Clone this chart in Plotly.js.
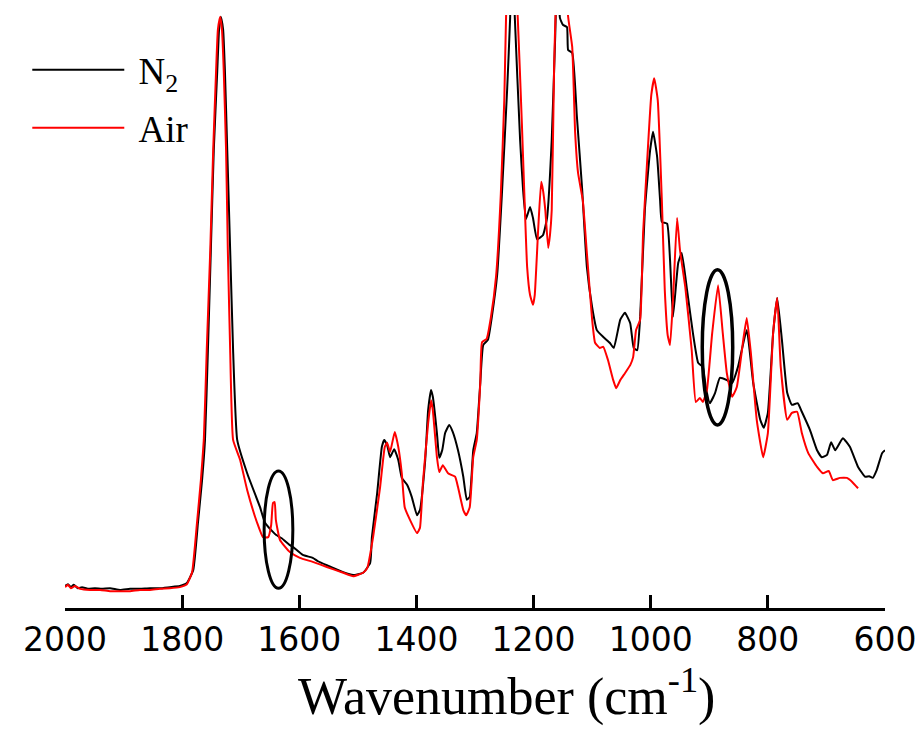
<!DOCTYPE html>
<html>
<head>
<meta charset="utf-8">
<script src="https://cdn.plot.ly/plotly-3.0.1.min.js"></script>
<style>html,body{margin:0;padding:0;background:#fff;}#chart{width:921px;height:736px;}</style>
</head>
<body>
<div id="chart"></div>
<script>
// Wavenumber (cm-1) and absorbance (a.u.)
const wnN2 = [2000,1995,1990,1985,1978,1971,1961,1949,1937,1923,1906,1889,1872,1855,1838,1821,1804,1792,1781,1773,1766,1761,1756,1751,1746,1740,1737,1734,1730,1727,1723,1718,1713,1706,1689,1667,1659,1645,1640,1630,1616,1611,1594,1577,1568,1553,1525,1508,1491,1479,1476,1467,1459,1455,1450,1445,1438,1431,1425,1416,1408,1399,1394,1385,1380,1375,1372,1365,1361,1356,1351,1344,1338,1329,1320,1314,1309,1303,1297,1291,1286,1278,1271,1262,1254,1245,1240,1237,1232,1223,1218,1213,1206,1201,1194,1184,1177,1169,1163,1159,1155,1150,1143,1141,1134,1126,1117,1109,1100,1092,1081,1070,1063,1052,1044,1035,1029,1023,1018,1010,1001,996,989,984,981,972,967,962,953,947,938,928,919,911,906,899,890,882,870,861,851,836,825,813,807,800,791,784,776,767,759,749,742,728,716,708,699,692,685,672,660,646,634,627,621,614,605,600];
const absN2 = [0.007,0.010,0.005,0.009,0.003,0.005,0.002,0.003,0.002,0.003,0.000,0.002,0.002,0.003,0.003,0.005,0.007,0.012,0.035,0.117,0.191,0.261,0.417,0.591,0.765,0.904,0.974,0.997,0.974,0.904,0.765,0.591,0.417,0.261,0.203,0.144,0.118,0.101,0.096,0.090,0.078,0.075,0.061,0.056,0.050,0.043,0.031,0.026,0.030,0.047,0.092,0.169,0.249,0.261,0.252,0.231,0.245,0.226,0.195,0.183,0.162,0.130,0.139,0.226,0.313,0.348,0.336,0.273,0.230,0.243,0.273,0.287,0.275,0.243,0.197,0.157,0.162,0.243,0.273,0.360,0.426,0.435,0.477,0.550,0.690,0.873,0.995,1.150,0.995,0.783,0.697,0.645,0.666,0.647,0.610,0.617,0.647,0.783,0.965,1.120,0.995,0.983,0.979,0.939,0.934,0.823,0.696,0.562,0.492,0.452,0.440,0.430,0.421,0.470,0.482,0.464,0.421,0.417,0.475,0.661,0.765,0.797,0.753,0.678,0.640,0.637,0.574,0.475,0.569,0.586,0.522,0.447,0.395,0.388,0.353,0.325,0.343,0.369,0.365,0.360,0.388,0.452,0.360,0.296,0.282,0.308,0.447,0.508,0.435,0.343,0.322,0.325,0.310,0.278,0.243,0.231,0.235,0.257,0.243,0.264,0.249,0.214,0.197,0.198,0.195,0.209,0.238,0.243];

const wnAir = [2000,1995,1990,1983,1974,1957,1940,1923,1906,1889,1872,1855,1838,1821,1804,1792,1783,1775,1768,1763,1758,1752,1747,1742,1739,1735,1732,1729,1725,1722,1718,1713,1701,1689,1672,1662,1653,1648,1645,1642,1640,1633,1616,1599,1577,1553,1525,1508,1491,1484,1474,1462,1454,1450,1445,1437,1431,1425,1420,1411,1399,1394,1389,1380,1375,1372,1365,1361,1355,1346,1334,1329,1320,1315,1309,1303,1297,1291,1288,1280,1273,1264,1256,1250,1247,1239,1227,1220,1216,1211,1206,1201,1198,1192,1187,1184,1180,1175,1172,1169,1165,1162,1151,1141,1134,1129,1124,1116,1109,1100,1095,1087,1081,1073,1064,1059,1052,1044,1035,1030,1025,1018,1013,1005,999,994,988,981,976,971,967,962,955,950,941,930,923,916,911,904,895,885,877,870,861,853,842,836,829,819,808,800,791,784,778,767,759,750,742,731,716,706,696,689,677,665,656,646];
const absAir = [0.005,0.009,0.003,0.007,0.002,0.000,0.000,-0.002,-0.002,-0.002,0.000,0.000,0.002,0.003,0.005,0.010,0.031,0.113,0.191,0.261,0.417,0.591,0.765,0.904,0.974,0.997,0.974,0.904,0.765,0.591,0.417,0.261,0.226,0.174,0.117,0.092,0.092,0.113,0.151,0.153,0.122,0.087,0.066,0.056,0.049,0.040,0.030,0.024,0.030,0.038,0.092,0.179,0.249,0.256,0.240,0.275,0.249,0.203,0.144,0.122,0.099,0.108,0.186,0.290,0.330,0.313,0.231,0.205,0.217,0.203,0.197,0.179,0.139,0.130,0.144,0.231,0.261,0.360,0.431,0.437,0.473,0.546,0.687,0.852,0.995,1.200,0.995,0.812,0.696,0.562,0.513,0.496,0.513,0.630,0.710,0.696,0.661,0.595,0.617,0.661,0.904,1.009,1.150,0.997,0.944,0.795,0.725,0.678,0.586,0.470,0.430,0.421,0.423,0.400,0.365,0.351,0.365,0.377,0.391,0.405,0.452,0.470,0.621,0.765,0.861,0.890,0.852,0.678,0.522,0.443,0.426,0.504,0.647,0.591,0.527,0.417,0.327,0.334,0.327,0.348,0.447,0.530,0.447,0.377,0.336,0.353,0.435,0.473,0.412,0.296,0.231,0.273,0.447,0.508,0.388,0.296,0.308,0.310,0.273,0.238,0.214,0.203,0.207,0.191,0.195,0.195,0.188,0.177];

const tickVals = [2000,1800,1600,1400,1200,1000,800,600];
const tickText = ['2000','1800','1600','1400','1200','1000','800','600'];
const seriesNames = ['\u00a0N<sub>2</sub>','\u00a0Air'];
const xTitle = 'Wavenumber (cm<sup>-1</sup>)';

const traces = [
  {x: wnN2, y: absN2, name: seriesNames[0], type:'scatter', mode:'lines',
   line:{color:'#000000', width:2, shape:'spline', smoothing:0.4}, legend:'legend'},
  {x: wnAir, y: absAir, name: seriesNames[1], type:'scatter', mode:'lines',
   line:{color:'#ff0000', width:2, shape:'spline', smoothing:0.4}, legend:'legend2'}
];

const legendStyle = {xanchor:'left', yanchor:'middle', bgcolor:'rgba(0,0,0,0)', borderwidth:0,
  font:{family:'Liberation Serif, Times New Roman, serif', size:37, color:'#000'}, itemwidth:92};

const layout = {
  width:921, height:736,
  margin:{l:65, r:36, t:15, b:128},
  paper_bgcolor:'#ffffff', plot_bgcolor:'#ffffff',
  showlegend:true,
  legend: Object.assign({x:-0.046, y:0.907}, legendStyle),
  legend2: Object.assign({x:-0.046, y:0.809}, legendStyle),
  xaxis:{
    range:[2000,600], tickvals:tickVals, ticktext:tickText,
    ticks:'inside', ticklen:13, tickwidth:3, tickcolor:'#000',
    showline:true, linewidth:3, linecolor:'#000', showgrid:false, zeroline:false,
    tickfont:{family:'DejaVu Sans, Arial, sans-serif', size:33, color:'#000'},
    ticklabelstandoff:0
  },
  yaxis:{range:[-0.0313,1.0], visible:false, showgrid:false, zeroline:false},
  annotations:[
    {text:xTitle, xref:'paper', yref:'paper', x:0.538, y:-0.143, xanchor:'center', yanchor:'middle',
     showarrow:false, font:{family:'Liberation Serif, Times New Roman, serif', size:52, color:'#000'}}
  ],
  shapes:[
    {type:'circle', xref:'x', yref:'y', x0:1660, x1:1611, y0:0.003, y1:0.207,
     line:{color:'#000', width:3}},
    {type:'circle', xref:'x', yref:'y', x0:912, x1:860, y0:0.287, y1:0.557,
     line:{color:'#000', width:3.5}}
  ]
};

Plotly.newPlot('chart', traces, layout, {displayModeBar:false, staticPlot:true});
</script>
</body>
</html>
